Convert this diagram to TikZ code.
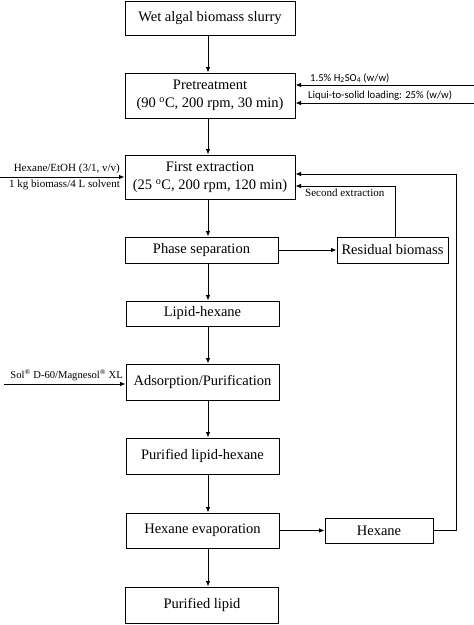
\documentclass[tikz,border=0pt]{standalone}
\usepackage{fontspec}
\setmainfont{Liberation Serif}
\newfontfamily\sansf{Carlito}
\usetikzlibrary{arrows.meta}
\begin{document}
\begin{tikzpicture}[x=1pt,y=-1pt,
  box/.style={draw,line width=1pt,inner sep=0pt,align=center,font=\fontsize{14.5}{18}\selectfont},
  arr/.style={line width=0.9pt,-{Latex[length=5.5pt,width=4.5pt]}},
  lbl/.style={inner sep=1pt,font=\fontsize{11}{13}\selectfont},
  slbl/.style={inner sep=1pt,font=\sansf\fontsize{10.7}{12}\selectfont}]
\useasboundingbox (0,0) rectangle (474,625);
% boxes
\node[box,minimum width=170pt,minimum height=34pt] (b1) at (210,18) {Wet algal biomass slurry};
\node[box,minimum width=170pt,minimum height=45pt] (b2) at (210,95.5) {Pretreatment\\(90 \textsuperscript{o}C, 200 rpm, 30 min)};
\node[box,minimum width=170pt,minimum height=44pt] (b3) at (210,177) {First extraction\\(25 \textsuperscript{o}C, 200 rpm, 120 min)};
\node[box,minimum width=153pt,minimum height=26pt] (b4) at (201.5,250) {Phase separation};
\node[box,minimum width=111pt,minimum height=26pt] (res) at (392.5,250) {Residual biomass};
\node[box,minimum width=153pt,minimum height=25pt] (b5) at (202.5,313.5) {Lipid-hexane};
\node[box,minimum width=153pt,minimum height=36pt] (b6) at (202.5,382) {Adsorption/Purification};
\node[box,minimum width=153pt,minimum height=36pt] (b7) at (202.5,456) {Purified lipid-hexane};
\node[box,minimum width=153pt,minimum height=35pt] (b8) at (202.5,530.5) {Hexane evaporation};
\node[box,minimum width=108pt,minimum height=25pt] (hex) at (379,530.5) {Hexane};
\node[box,minimum width=153pt,minimum height=36pt] (b9) at (202,605) {Purified lipid};
% main vertical line
\coordinate (xl) at (208,0);
\draw[arr] (b1.south -| xl) -- (b2.north -| xl);
\draw[arr] (b2.south -| xl) -- (b3.north -| xl);
\draw[arr] (b3.south -| xl) -- (b4.north -| xl);
\draw[arr] (b4.south -| xl) -- (b5.north -| xl);
\draw[arr] (b5.south -| xl) -- (b6.north -| xl);
\draw[arr] (b6.south -| xl) -- (b7.north -| xl);
\draw[arr] (b7.south -| xl) -- (b8.north -| xl);
\draw[arr] (b8.south -| xl) -- (b9.north -| xl);
% side arrows
\draw[arr] (b4.east) -- (res.west);
\draw[arr] (b8.east |- hex.west) -- (hex.west);
% right inputs
\coordinate (r1) at (474,85);
\coordinate (r2) at (474,103);
\draw[arr] (r1) -- (r1 -| b2.east);
\draw[arr] (r2) -- (r2 -| b2.east);
\node[slbl,anchor=south west] (t1) at (309,84) {1.5\% H\textsubscript{2}SO\textsubscript{4} (w/w)};
\node[slbl,anchor=south west] (t2) at (307,102) {Liqui-to-solid loading: 25\% (w/w)};
% left input to first extraction
\coordinate (l1) at (0,177);
\draw[arr] (l1) -- (l1 -| b3.west);
\node[lbl,anchor=south east] (t3) at (121,175) {Hexane/EtOH (3/1, v/v)};
\node[lbl,anchor=north east] (t4) at (121,179) {1 kg biomass/4 L solvent};
% second extraction loop
\coordinate (se) at (395,186);
\draw[arr] (res.north -| se) -- (se) -- (se -| b3.east);
\node[lbl,anchor=north west] (t5) at (304,188) {Second extraction};
% hexane recycle loop
\coordinate (lp) at (456,174);
\draw[arr] (hex.east) -- (hex.east -| lp) -- (lp) -- (lp -| b3.east);
% sorbent input
\coordinate (l2) at (4,384);
\draw[arr] (l2) -- (l2 -| b6.west);
\node[lbl,anchor=south east,font=\fontsize{10.6}{13}\selectfont] (t6) at (124,382) {Sol\textsuperscript{®} D-60/Magnesol\textsuperscript{®} XL};
\end{tikzpicture}
\end{document}
